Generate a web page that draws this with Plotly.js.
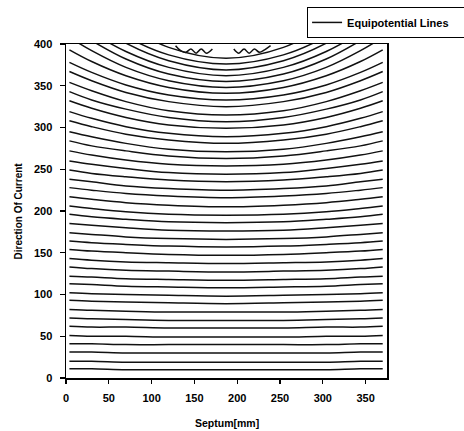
<!DOCTYPE html>
<html>
<head>
<meta charset="utf-8">
<script src="https://cdn.plot.ly/plotly-3.0.1.min.js"></script>
<style>
html,body{margin:0;padding:0;background:#fff;}
#chart{width:464px;height:431px;}
</style>
</head>
<body>
<div id="chart"></div>
<script>
// Sample positions along the septum (mm)
const xs = [4, 30, 70, 120, 187, 254, 304, 344, 370];

// Each equipotential line: y values read at the xs positions
const lineY = [
  [11,11,10,10,10,10,10,11,11],
  [20,20,19,19,19,19,19,20,20],
  [31,31,30,30,30,30,30,31,31],
  [41,41,40,40,40,40,40,41,41],
  [51,50,50,49,49,49,50,50,51],
  [62,61,61,60,60,60,61,61,62],
  [72,71,70,69,69,69,70,71,72],
  [82,81,80,79,79,79,80,81,82],
  [93,92,91,90,89,90,91,92,93],
  [102,101,100,99,98,99,100,101,102],
  [113,112,110,109,108,109,110,112,113],
  [122,121,119,118,117,118,119,121,122],
  [133,131,129,128,127,128,129,131,133],
  [143,141,139,138,137,138,139,141,143],
  [154,152,150,148,147,148,150,152,154],
  [164,162,160,158,157,158,160,162,164],
  [174,172,169,167,166,167,169,172,174],
  [185,183,180,177,176,177,180,183,185],
  [196,193,190,187,186,187,190,193,196],
  [206,203,199,196,195,196,199,203,206],
  [217,214,210,207,205,207,210,214,217],
  [228,225,221,218,216,218,221,225,228],
  [238,235,230,227,225,227,230,235,238],
  [249,245,241,237,235,237,241,245,249],
  [260,256,251,246,244,246,251,256,260],
  [272,267,261,256,254,256,261,267,272],
  [284,278,272,266,263,266,272,278,284],
  [295,289,281,274,271,274,281,289,295],
  [308,301,292,285,281,285,292,301,308],
  [319,311,301,293,289,293,301,311,319],
  [332,323,312,303,299,303,312,323,332],
  [343,333,322,312,307,312,322,333,343],
  [354,344,331,320,315,320,331,344,354],
  [367,356,342,331,325,331,342,356,367],
  [378,366,351,339,333,339,351,366,378],
  [393,379,362,348,341,348,362,379,393],
  [408,392,372,356,348,356,372,392,408],
  [421,404,382,364,355,364,382,404,421],
  [433,414,391,372,362,372,391,414,433],
  [448,427,401,380,369,380,401,427,448],
  [458,436,409,387,376,387,409,436,458],
  [482,456,423,396,383,396,423,456,482]
];

// Topmost line, broken into two wavy pieces near the top edge
const topLeftX = [128, 134, 140, 146, 152, 158, 164, 171];
const topLeftY = [398, 392, 390, 394, 389, 394, 389, 394];
const topRightX = [196, 202, 208, 214, 220, 226, 232, 239];
const topRightY = [394, 389, 394, 389, 394, 390, 393, 398];

const xTicks = [0, 50, 100, 150, 200, 250, 300, 350];
const yTicks = [0, 50, 100, 150, 200, 250, 300, 350, 400];

const lineStyle = {color: '#111', width: 1.5, shape: 'spline', smoothing: 1};
const traces = lineY.map((ys, i) => ({
  type: 'scatter', mode: 'lines', x: xs, y: ys,
  line: lineStyle, name: 'Equipotential Lines',
  legendgroup: 'eq', showlegend: i === 0, hoverinfo: 'skip'
}));
traces.push({type:'scatter', mode:'lines', x: topLeftX, y: topLeftY, line: lineStyle,
  legendgroup:'eq', showlegend:false, hoverinfo:'skip'});
traces.push({type:'scatter', mode:'lines', x: topRightX, y: topRightY, line: lineStyle,
  legendgroup:'eq', showlegend:false, hoverinfo:'skip'});

const fontFam = '"Liberation Sans", Arial, sans-serif';
const layout = {
  width: 464, height: 431,
  margin: {l: 66, r: 77, t: 44, b: 53, pad: 0, autoexpand: false},
  paper_bgcolor: '#fff', plot_bgcolor: '#fff',
  font: {family: fontFam, color: '#000', size: 11, weight: 'bold'},
  showlegend: true,
  legend: {
    orientation: 'h', entrywidth: 150, entrywidthmode: 'pixels',
    x: 0.751, y: 1.111, xanchor: 'left', yanchor: 'top',
    bordercolor: '#000', borderwidth: 1, bgcolor: '#fff',
    font: {family: fontFam, size: 11, weight: 'bold', color: '#000'}
  },
  xaxis: {
    range: [0, 375], tickvals: xTicks, ticktext: xTicks.map(String),
    ticks: 'outside', ticklen: 4, tickwidth: 1.3, tickcolor: '#000',
    showline: true, linecolor: '#000', linewidth: 1.5, mirror: true,
    showgrid: false, zeroline: false, ticklabelstandoff: 5,
    tickfont: {family: fontFam, size: 11, weight: 'bold'}
  },
  yaxis: {
    range: [0, 400], tickvals: yTicks, ticktext: yTicks.map(String),
    ticks: 'outside', ticklen: 5, tickwidth: 1.3, tickcolor: '#000',
    showline: true, linecolor: '#000', linewidth: 1.5, mirror: true,
    showgrid: false, zeroline: false, ticklabelstandoff: 5,
    tickfont: {family: fontFam, size: 11, weight: 'bold'}
  },
  annotations: [
    {text: 'Septum[mm]', xref: 'paper', yref: 'paper', x: 0.5, y: -0.135,
     xanchor: 'center', yanchor: 'middle', showarrow: false,
     font: {family: fontFam, size: 10.5, weight: 'bold', color: '#000'}},
    {text: 'Direction Of Current', xref: 'paper', yref: 'paper', x: -0.148, y: 0.5,
     xanchor: 'center', yanchor: 'middle', textangle: -90, showarrow: false,
     font: {family: fontFam, size: 10, weight: 'bold', color: '#000'}}
  ]
};

Plotly.newPlot('chart', traces, layout, {staticPlot: true, displayModeBar: false});
</script>
</body>
</html>
